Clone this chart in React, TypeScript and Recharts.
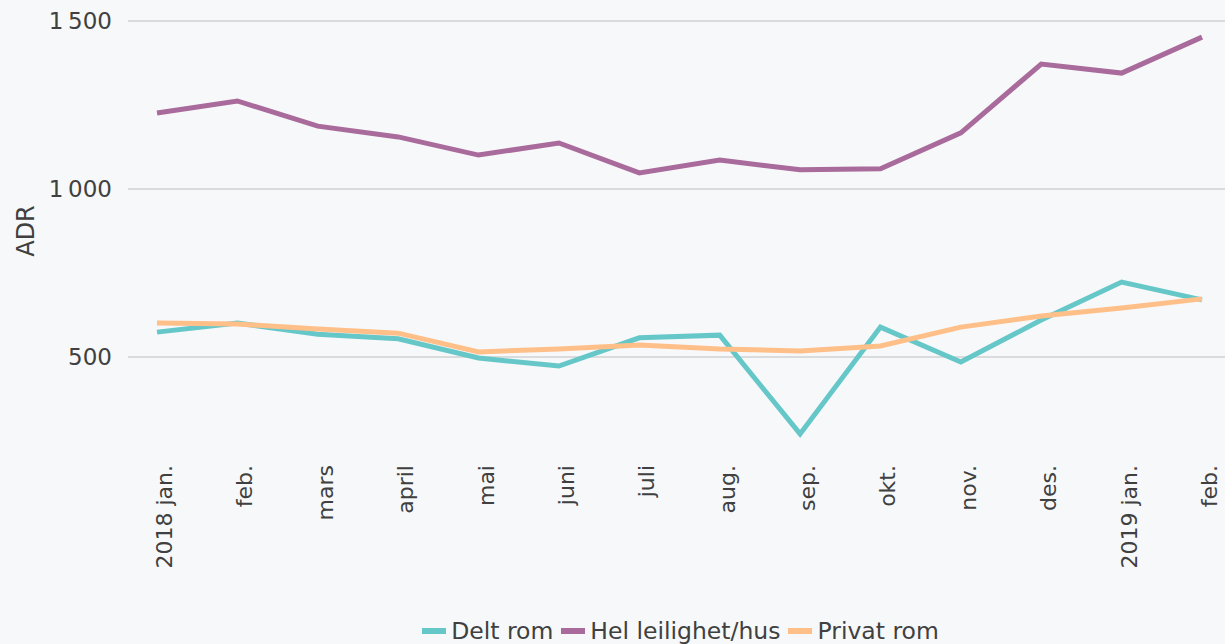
import { LineChart, Line, XAxis, YAxis, CartesianGrid, Legend } from 'recharts';

// month labels on the x axis
const months = [
    '2018 jan.', 'feb.', 'mars', 'april', 'mai', 'juni', 'juli',
    'aug.', 'sep.', 'okt.', 'nov.', 'des.', '2019 jan.', 'feb.',
];

// ADR per room type
const deltRom = [574, 601, 568, 554, 497, 473, 557, 565, 271, 589, 485, 610, 723, 670];
const helLeilighet = [1226, 1262, 1187, 1155, 1101, 1137, 1048, 1086, 1057, 1060, 1167, 1372, 1345, 1452];
const privatRom = [601, 598, 583, 571, 515, 524, 536, 524, 518, 533, 589, 622, 646, 673];

const yTicks = [500, 1000, 1500];

const seriesInfo = [
    { key: 'delt', name: 'Delt rom', color: '#66c7c9' },
    { key: 'hel', name: 'Hel leilighet/hus', color: '#a86b9b' },
    { key: 'privat', name: 'Privat rom', color: '#ffbf89' },
];

const data = months.map((m, i) => ({
    month: m,
    delt: deltRom[i],
    hel: helLeilighet[i],
    privat: privatRom[i],
}));

const FONT = '"DejaVu Sans", sans-serif';
const TEXT = '#404040';

const formatNum = (v: number) => {
    const s = String(v);
    return s.length > 3 ? s.slice(0, -3) + '\u202f' + s.slice(-3) : s;
};

const MonthTick = (props: any) => {
    const { x, y, payload } = props;
    return (
        <text
            x={x}
            y={y}
            dy={15}
            transform={`rotate(-90, ${x}, ${y})`}
            textAnchor="end"
            fontSize={22}
            fontFamily={FONT}
            fill={TEXT}
        >
            {payload.value}
        </text>
    );
};

const LegendBox = () => (
    <div
        style={{
            width: 1225,
            boxSizing: 'border-box',
            paddingLeft: 136,
            height: 40,
            display: 'flex',
            justifyContent: 'center',
            alignItems: 'flex-end',
            fontFamily: FONT,
            fontSize: 23.5,
            color: TEXT,
        }}
    >
        {seriesInfo.map((s, i) => (
            <div
                key={s.key}
                style={{ display: 'flex', alignItems: 'center', lineHeight: '26px', marginLeft: i === 0 ? 0 : 8 }}
            >
                <span style={{ width: 24, height: 6, background: s.color, marginRight: 5, display: 'inline-block' }} />
                <span>{s.name}</span>
            </div>
        ))}
    </div>
);

export default function App() {
    return (
        <div style={{ width: 1225, height: 644, background: '#f7f8fa', position: 'relative' }}>
            <style>{`body { margin: 0; }`}</style>
            <LineChart width={1225} height={644} data={data} margin={{ top: 21, right: 0, left: 0, bottom: 0 }}>
                <CartesianGrid vertical={false} horizontalValues={yTicks} stroke="#dadbdd" strokeWidth={2} />
                <XAxis
                    dataKey="month"
                    axisLine={false}
                    tickLine={false}
                    tickSize={0}
                    tickMargin={24}
                    interval={0}
                    height={163}
                    padding={{ left: 29, right: 23 }}
                    tick={<MonthTick />}
                />
                <YAxis
                    width={128}
                    domain={[250, 1500]}
                    ticks={yTicks}
                    axisLine={false}
                    tickLine={false}
                    tickSize={0}
                    tickMargin={16}
                    tickFormatter={formatNum}
                    tick={{ fontSize: 23, fontFamily: FONT, fill: TEXT }}
                    label={{
                        value: 'ADR',
                        angle: -90,
                        position: 'insideLeft',
                        offset: 0,
                        dx: 25,
                        style: { fontSize: 24, fontFamily: FONT, fill: TEXT, textAnchor: 'middle' },
                    }}
                />
                <Legend verticalAlign="bottom" height={40} content={<LegendBox />} />
                {seriesInfo.map((s) => (
                    <Line
                        key={s.key}
                        type="linear"
                        dataKey={s.key}
                        name={s.name}
                        stroke={s.color}
                        strokeWidth={5}
                        dot={false}
                        activeDot={false}
                        isAnimationActive={false}
                    />
                ))}
            </LineChart>
        </div>
    );
}
